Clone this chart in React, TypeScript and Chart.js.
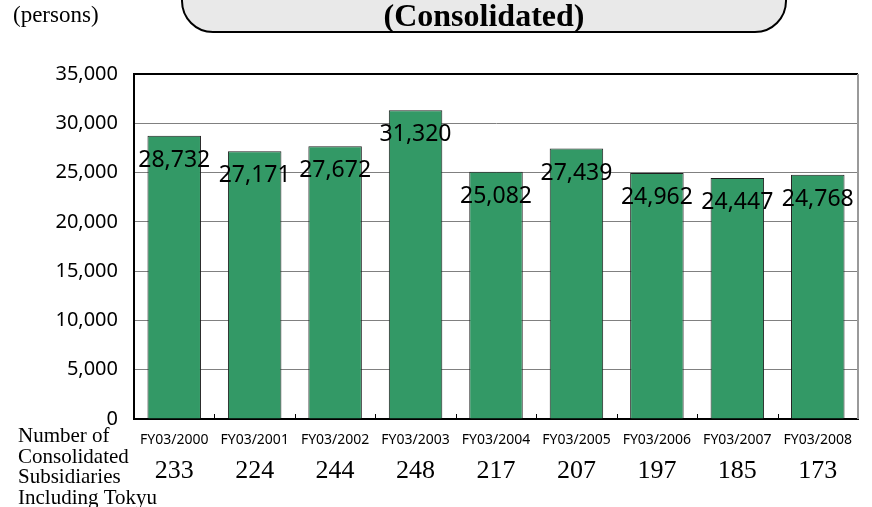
import React, { useEffect, useRef } from "react";
import { Chart, registerables } from "chart.js";

Chart.register(...registerables);

const categories = [
  "FY03/2000",
  "FY03/2001",
  "FY03/2002",
  "FY03/2003",
  "FY03/2004",
  "FY03/2005",
  "FY03/2006",
  "FY03/2007",
  "FY03/2008",
];
const employees = [28732, 27171, 27672, 31320, 25082, 27439, 24962, 24447, 24768];
const subsidiaries = [233, 224, 244, 248, 217, 207, 197, 185, 173];
const yMin = 0;
const yMax = 35000;
const yStep = 5000;
const titleText = "(Consolidated)";
const unitText = "(persons)";
const rowLabelLines = ["Number of", "Consolidated", "Subsidiaries", "Including Tokyu"];

const fmt = (v: number) => v.toLocaleString("en-US");

const decorPlugin = {
  id: "decor",
  afterDraw(chart: any) {
    const { ctx, chartArea } = chart;
    const xs = chart.scales.x;
    ctx.save();

    // header box (rounded bottom corners, top off-canvas)
    const bl = 182, br = 786, bb = 32, r = 31;
    ctx.beginPath();
    ctx.moveTo(bl, -10);
    ctx.lineTo(bl, bb - r);
    ctx.arcTo(bl, bb, bl + r, bb, r);
    ctx.lineTo(br - r, bb);
    ctx.arcTo(br, bb, br, bb - r, r);
    ctx.lineTo(br, -10);
    ctx.closePath();
    ctx.fillStyle = "#e9e9e9";
    ctx.fill();
    ctx.lineWidth = 2;
    ctx.strokeStyle = "#000";
    ctx.stroke();

    ctx.fillStyle = "#000";
    ctx.textAlign = "center";
    ctx.textBaseline = "alphabetic";
    ctx.font = 'bold 32px "Liberation Serif"';
    ctx.fillText(titleText, (bl + br) / 2, 26);

    ctx.textAlign = "left";
    ctx.font = '23px "Liberation Serif"';
    ctx.fillText(unitText, 13, 22);

    // right border of plot
    ctx.beginPath();
    ctx.strokeStyle = "#9a9a9a";
    ctx.lineWidth = 2;
    ctx.moveTo(chartArea.right, chartArea.top);
    ctx.lineTo(chartArea.right, chartArea.bottom);
    ctx.stroke();

    // small category separators on bottom axis
    ctx.beginPath();
    ctx.strokeStyle = "#000";
    ctx.lineWidth = 1;
    for (let i = 1; i < categories.length; i++) {
      const x = Math.round((xs.getPixelForValue(i - 1) + xs.getPixelForValue(i)) / 2) + 0.5;
      ctx.moveTo(x, chartArea.bottom);
      ctx.lineTo(x, chartArea.bottom - 5);
    }
    ctx.stroke();

    // data labels
    const meta = chart.getDatasetMeta(0);
    ctx.font = '23px "Noto Sans"';
    ctx.textAlign = "center";
    ctx.fillStyle = "#000";
    meta.data.forEach((el: any, i: number) => {
      ctx.fillText(fmt(employees[i]), el.x, el.y + 31);
    });

    // subsidiaries row
    ctx.font = '26px "Liberation Serif"';
    subsidiaries.forEach((v, i) => {
      ctx.fillText(String(v), xs.getPixelForValue(i), chartArea.bottom + 59);
    });

    // row label
    ctx.textAlign = "left";
    ctx.font = '21px "Liberation Serif"';
    rowLabelLines.forEach((line, i) => {
      ctx.fillText(line, 18, chartArea.bottom + 23 + i * 20.5);
    });

    ctx.restore();
  },
};

export default function App() {
  const ref = useRef<HTMLCanvasElement | null>(null);
  useEffect(() => {
    if (!ref.current) return;
    const chart = new Chart(ref.current, {
      type: "bar",
      data: {
        labels: categories,
        datasets: [
          {
            data: employees,
            backgroundColor: "#339966",
            borderColor: "#1f1f1f",
            borderWidth: 1,
            barPercentage: 0.665,
            categoryPercentage: 1,
          },
        ],
      },
      options: {
        responsive: false,
        animation: false,
        layout: { padding: { top: 74, right: 14, left: 0, bottom: 0 } },
        plugins: {
          legend: { display: false },
          tooltip: { enabled: false },
          title: { display: false },
        },
        scales: {
          x: {
            grid: { display: false },
            border: { display: true, color: "#000", width: 2 },
            ticks: {
              color: "#000",
              font: { family: "Noto Sans", size: 14 },
              padding: 5,
              maxRotation: 0,
              autoSkip: false,
            },
            afterFit: (s: any) => {
              s.height = 88;
            },
          },
          y: {
            min: yMin,
            max: yMax,
            ticks: {
              stepSize: yStep,
              color: "#000",
              font: { family: "Noto Sans", size: 20 },
              padding: 16,
              callback: (v: any) => fmt(Number(v)),
            },
            grid: {
              drawTicks: false,
              color: (c: any) => (c.tick && c.tick.value === yMax ? "#000" : "#808080"),
              lineWidth: (c: any) => (c.tick && c.tick.value === yMax ? 2 : 1),
            },
            border: { display: true, color: "#000", width: 2 },
            afterFit: (s: any) => {
              s.width = 134;
            },
          },
        },
      },
      plugins: [decorPlugin],
    });
    return () => chart.destroy();
  }, []);
  return (
    <div style={{ position: "fixed", left: 0, top: 0, width: 872, height: 507, background: "#fff" }}>
      <canvas ref={ref} width={872} height={507} style={{ width: 872, height: 507, display: "block" }} />
    </div>
  );
}
